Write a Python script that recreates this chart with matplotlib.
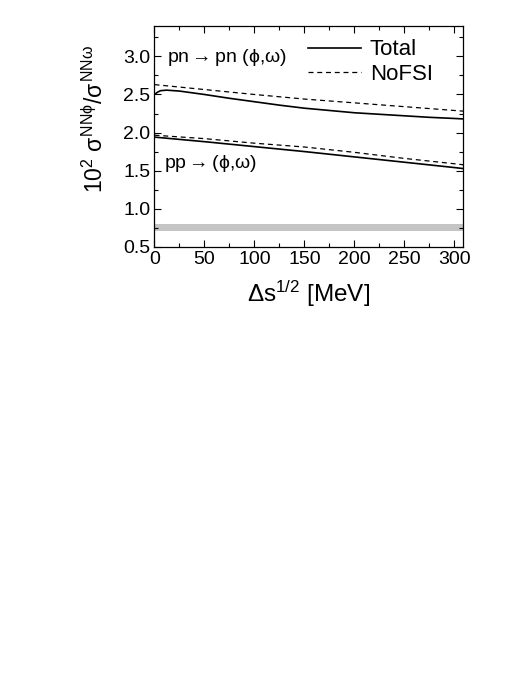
import matplotlib
matplotlib.use("Agg")
import matplotlib.pyplot as plt
from matplotlib.ticker import MultipleLocator

plt.rcParams['font.family'] = ['Liberation Sans', 'DejaVu Sans']
plt.rcParams['mathtext.fontset'] = 'custom'
plt.rcParams['mathtext.rm'] = 'Liberation Sans'
plt.rcParams['mathtext.it'] = 'Liberation Sans'
plt.rcParams['mathtext.fallback'] = 'stixsans'

# data
pn_tot_x = [0, 3, 6, 12, 25, 50, 75, 100, 125, 150, 175, 200, 225, 250, 275, 300, 310]
pn_tot_y = [2.50, 2.53, 2.55, 2.557, 2.545, 2.50, 2.45, 2.405, 2.36, 2.32, 2.29, 2.26, 2.24, 2.22, 2.20, 2.185, 2.178]
nofsi_x = [0, 50, 100, 150, 200, 250, 300, 310]
pn_nofsi_y = [2.63, 2.565, 2.50, 2.44, 2.39, 2.34, 2.29, 2.28]
pp_tot_x = [0, 50, 100, 150, 200, 250, 300, 310]
pp_tot_y = [1.94, 1.88, 1.815, 1.75, 1.68, 1.61, 1.54, 1.525]
pp_nofsi_y = [1.965, 1.92, 1.86, 1.81, 1.74, 1.66, 1.59, 1.575]
band_lo, band_hi = 0.70, 0.80

fig = plt.figure(figsize=(5.23, 6.77), dpi=100)
ax = fig.add_axes([0.2954, 0.6356, 0.8859 - 0.2954, 0.9616 - 0.6356])

ax.axhspan(band_lo, band_hi, color='#c4c4c4', lw=0)
ax.plot(pn_tot_x, pn_tot_y, 'k-', lw=1.2, label='Total')
ax.plot(nofsi_x, pn_nofsi_y, color='k', ls=(0, (4, 3)), lw=0.9, label='NoFSI')
ax.plot(pp_tot_x, pp_tot_y, 'k-', lw=1.2)
ax.plot(nofsi_x, pp_nofsi_y, color='k', ls=(0, (4, 3)), lw=0.9)

ax.set_xlim(0, 309)
ax.set_ylim(0.5, 3.4)
ax.xaxis.set_major_locator(MultipleLocator(50))
ax.xaxis.set_minor_locator(MultipleLocator(25))
ax.yaxis.set_minor_locator(MultipleLocator(0.25))
ax.set_yticks([0.5, 1.0, 1.5, 2.0, 2.5, 3.0])
ax.set_yticklabels(['0.5', '1.0', '1.5', '2.0', '2.5', '3.0'])
ax.tick_params(which='both', direction='in', top=True, right=True, labelsize=14, width=0.8)
ax.tick_params(which='major', length=5, pad=3)
ax.tick_params(which='minor', length=3)
for s in ax.spines.values():
    s.set_linewidth(0.9)

ax.text(13, 2.99, r'pn$\rightarrow$pn ($\phi$,$\omega$)', fontsize=14, va='center', ha='left')
ax.text(10, 1.59, r'pp$\rightarrow$($\phi$,$\omega$)', fontsize=14, va='center', ha='left')

leg = ax.legend(loc='upper right', frameon=False, fontsize=16, handlelength=2.4,
                handletextpad=0.4, labelspacing=0.15, borderaxespad=0.0,
                bbox_to_anchor=(0.93, 0.98))

ax.set_xlabel(r'$\Delta$s$^{1/2}$ [MeV]', fontsize=17.5, labelpad=8)
ax.set_ylabel(r'10$^{2}$ $\sigma^{\mathrm{NN}\phi}/\sigma^{\mathrm{NN}\omega}$', fontsize=16.5)
ax.yaxis.set_label_coords(-0.15, 0.58)

fig.savefig('out.png', dpi=100)
